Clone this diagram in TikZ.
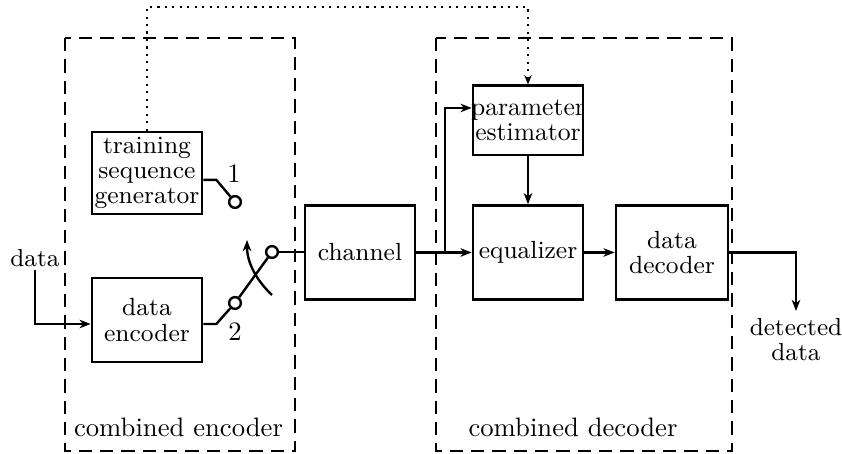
\documentclass[tikz,border=0pt]{standalone}
\usetikzlibrary{arrows.meta}
\begin{document}
\begin{tikzpicture}[x=0.375pt,y=-0.375pt,
  txt/.style={font=\fontsize{10}{9.4}\selectfont, align=center},
  btxt/.style={font=\fontsize{9.3}{9.5}\selectfont, align=center},
  stxt/.style={font=\fontsize{9.2}{9.6}\selectfont, align=center},
  blk/.style={draw, line width=1pt, inner sep=0pt, btxt},
  sw/.style={draw, circle, line width=0.9pt, inner sep=0pt, minimum size=4.4pt},
  wire/.style={line width=0.9pt},
  arr/.style={wire, -{Stealth[length=4.2pt,width=3.2pt,inset=1.3pt]}},
  dashbox/.style={line width=1.1pt, dash pattern=on 5pt off 3pt},
  dots/.style={line width=0.8pt, dotted}]
\useasboundingbox (0,0) rectangle (842,454);

% group frames
\draw[dashbox] (65,38) rectangle (295,451);
\draw[dashbox] (436,38) rectangle (732,451);
\node[txt] (lenc) at (178.5,427) {combined encoder};
\node[txt] (ldec) at (573,427) {combined decoder};

% blocks
\node[blk, minimum width=41.25pt, minimum height=30.75pt] (tsg) at (147,173) {training\\sequence\\generator};
\node[blk, minimum width=41.25pt, minimum height=31.5pt] (enc) at (147,320) {data\\encoder};
\node[blk, minimum width=41.25pt, minimum height=35.2pt] (chan) at (360,252.5) {channel};
\node[blk, minimum width=41.25pt, minimum height=26pt, font=\fontsize{9.6}{9.5}\selectfont] (par) at (528,120.5)
  {\makebox[0pt]{parameter}\\\makebox[0pt]{estimator}};
\node[blk, minimum width=41.25pt, minimum height=35.2pt] (eq) at (528,252.5) {equalizer};
\node[blk, minimum width=42pt, minimum height=35.2pt] (dec) at (672,252.5) {data\\decoder};

% switch contacts
\node[sw] (c1) at (235,202) {};
\node[sw] (c2) at (235,303) {};
\node[sw] (c3) at (272,252) {};
\node[txt] (n1) at (234,174) {1};
\node[txt] (n2) at (235,332) {2};

% input and output labels
\node[stxt, inner sep=1pt] (din) at (35,258) {data};
\node[stxt, anchor=north, inner sep=2.5pt] (det) at (796,311) {detected\\data};

% switch
\draw[wire] ([yshift=-2.6pt]tsg.east) -- ++(13,0) -- (c1);
\draw[wire] ([yshift=-1.5pt]enc.east) -- ++(13,0) -- (c2);
\draw[wire] (c2) -- (c3);
\draw[wire] (c3.east) -- (c3.east -| chan.west);
\coordinate (swa) at (272,295);
\coordinate (swb) at (247,240);
\draw[arr] (swa) .. controls (257,281) and (247,263) .. (swb);

% signal path
\draw[arr] (din.south) |- ([yshift=-1.5pt]enc.west);
\draw[arr] (chan.east) -- (eq.west);
\coordinate (br) at (445,252.5);
\draw[arr] (br) |- ([yshift=4.7pt]par.west);
\draw[arr] (par) -- (eq);
\draw[arr] (eq) -- (dec);
\draw[arr] (dec.east) -| (det.north);

% training sequence reference
\draw[dots, -{Stealth[length=3.5pt,width=2.8pt,inset=1.1pt]}] (tsg.north) -- ++(0,-124) -| (par.north);
\end{tikzpicture}
\end{document}
